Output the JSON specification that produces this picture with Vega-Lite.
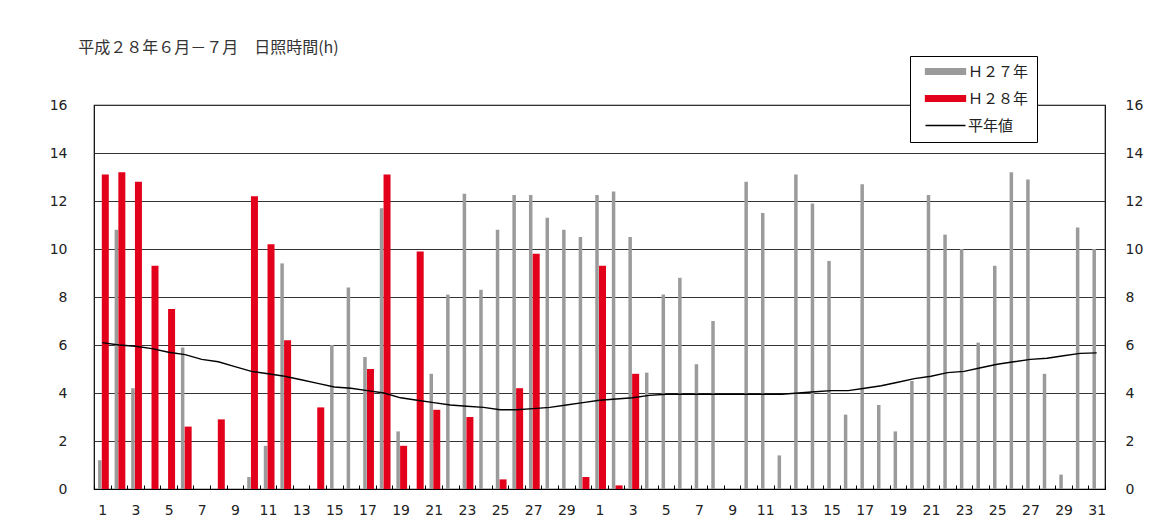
{
  "$schema": "https://vega.github.io/schema/vega-lite/v6.json",
  "width": 1011,
  "height": 384,
  "autosize": {"type": "none"},
  "padding": {"left": 94, "top": 105, "right": 52, "bottom": 41},
  "background": "#ffffff",
  "title": {
    "text": "平成２８年６月－７月　日照時間(h)",
    "anchor": "start",
    "dx": 29,
    "offset": 0,
    "fontSize": 16,
    "fontWeight": "normal",
    "font": "Noto Sans CJK JP",
    "color": "#333333"
  },
  "config": {
    "view": {"stroke": "#000000", "strokeWidth": 1.2},
    "axis": {"labelFont": "DejaVu Sans", "labelFontSize": 14, "labelColor": "#222222", "title": null}
  },
  "data": {
    "values": [
      {"d": 1, "month": 6, "day": 1, "H27": 1.2, "H28": 13.1, "avg": 6.1},
      {"d": 2, "month": 6, "day": 2, "H27": 10.8, "H28": 13.2, "avg": 6.0},
      {"d": 3, "month": 6, "day": 3, "H27": 4.2, "H28": 12.8, "avg": 5.95},
      {"d": 4, "month": 6, "day": 4, "H27": 0, "H28": 9.3, "avg": 5.85},
      {"d": 5, "month": 6, "day": 5, "H27": 0, "H28": 7.5, "avg": 5.7},
      {"d": 6, "month": 6, "day": 6, "H27": 5.9, "H28": 2.6, "avg": 5.6},
      {"d": 7, "month": 6, "day": 7, "H27": 0, "H28": 0, "avg": 5.4},
      {"d": 8, "month": 6, "day": 8, "H27": 0, "H28": 2.9, "avg": 5.3},
      {"d": 9, "month": 6, "day": 9, "H27": 0, "H28": 0, "avg": 5.1},
      {"d": 10, "month": 6, "day": 10, "H27": 0.5, "H28": 12.2, "avg": 4.9},
      {"d": 11, "month": 6, "day": 11, "H27": 1.8, "H28": 10.2, "avg": 4.8},
      {"d": 12, "month": 6, "day": 12, "H27": 9.4, "H28": 6.2, "avg": 4.7},
      {"d": 13, "month": 6, "day": 13, "H27": 0, "H28": 0, "avg": 4.55},
      {"d": 14, "month": 6, "day": 14, "H27": 0, "H28": 3.4, "avg": 4.4},
      {"d": 15, "month": 6, "day": 15, "H27": 6.0, "H28": 0, "avg": 4.25},
      {"d": 16, "month": 6, "day": 16, "H27": 8.4, "H28": 0, "avg": 4.2},
      {"d": 17, "month": 6, "day": 17, "H27": 5.5, "H28": 5.0, "avg": 4.1},
      {"d": 18, "month": 6, "day": 18, "H27": 11.7, "H28": 13.1, "avg": 4.0},
      {"d": 19, "month": 6, "day": 19, "H27": 2.4, "H28": 1.8, "avg": 3.8},
      {"d": 20, "month": 6, "day": 20, "H27": 0, "H28": 9.9, "avg": 3.7},
      {"d": 21, "month": 6, "day": 21, "H27": 4.8, "H28": 3.3, "avg": 3.6},
      {"d": 22, "month": 6, "day": 22, "H27": 8.1, "H28": 0, "avg": 3.5},
      {"d": 23, "month": 6, "day": 23, "H27": 12.3, "H28": 3.0, "avg": 3.45},
      {"d": 24, "month": 6, "day": 24, "H27": 8.3, "H28": 0, "avg": 3.4},
      {"d": 25, "month": 6, "day": 25, "H27": 10.8, "H28": 0.4, "avg": 3.3},
      {"d": 26, "month": 6, "day": 26, "H27": 12.25, "H28": 4.2, "avg": 3.3},
      {"d": 27, "month": 6, "day": 27, "H27": 12.25, "H28": 9.8, "avg": 3.35},
      {"d": 28, "month": 6, "day": 28, "H27": 11.3, "H28": 0, "avg": 3.4},
      {"d": 29, "month": 6, "day": 29, "H27": 10.8, "H28": 0, "avg": 3.5},
      {"d": 30, "month": 6, "day": 30, "H27": 10.5, "H28": 0.5, "avg": 3.6},
      {"d": 31, "month": 7, "day": 1, "H27": 12.25, "H28": 9.3, "avg": 3.7},
      {"d": 32, "month": 7, "day": 2, "H27": 12.4, "H28": 0.15, "avg": 3.75},
      {"d": 33, "month": 7, "day": 3, "H27": 10.5, "H28": 4.8, "avg": 3.8},
      {"d": 34, "month": 7, "day": 4, "H27": 4.85, "H28": null, "avg": 3.9},
      {"d": 35, "month": 7, "day": 5, "H27": 8.1, "H28": null, "avg": 3.95},
      {"d": 36, "month": 7, "day": 6, "H27": 8.8, "H28": null, "avg": 3.95},
      {"d": 37, "month": 7, "day": 7, "H27": 5.2, "H28": null, "avg": 3.95},
      {"d": 38, "month": 7, "day": 8, "H27": 7.0, "H28": null, "avg": 3.95},
      {"d": 39, "month": 7, "day": 9, "H27": 0, "H28": null, "avg": 3.95},
      {"d": 40, "month": 7, "day": 10, "H27": 12.8, "H28": null, "avg": 3.95},
      {"d": 41, "month": 7, "day": 11, "H27": 11.5, "H28": null, "avg": 3.95},
      {"d": 42, "month": 7, "day": 12, "H27": 1.4, "H28": null, "avg": 3.95},
      {"d": 43, "month": 7, "day": 13, "H27": 13.1, "H28": null, "avg": 4.0},
      {"d": 44, "month": 7, "day": 14, "H27": 11.9, "H28": null, "avg": 4.05},
      {"d": 45, "month": 7, "day": 15, "H27": 9.5, "H28": null, "avg": 4.1},
      {"d": 46, "month": 7, "day": 16, "H27": 3.1, "H28": null, "avg": 4.1},
      {"d": 47, "month": 7, "day": 17, "H27": 12.7, "H28": null, "avg": 4.2},
      {"d": 48, "month": 7, "day": 18, "H27": 3.5, "H28": null, "avg": 4.3},
      {"d": 49, "month": 7, "day": 19, "H27": 2.4, "H28": null, "avg": 4.45},
      {"d": 50, "month": 7, "day": 20, "H27": 4.5, "H28": null, "avg": 4.6},
      {"d": 51, "month": 7, "day": 21, "H27": 12.25, "H28": null, "avg": 4.7},
      {"d": 52, "month": 7, "day": 22, "H27": 10.6, "H28": null, "avg": 4.85},
      {"d": 53, "month": 7, "day": 23, "H27": 10.0, "H28": null, "avg": 4.9},
      {"d": 54, "month": 7, "day": 24, "H27": 6.1, "H28": null, "avg": 5.05},
      {"d": 55, "month": 7, "day": 25, "H27": 9.3, "H28": null, "avg": 5.2},
      {"d": 56, "month": 7, "day": 26, "H27": 13.2, "H28": null, "avg": 5.3},
      {"d": 57, "month": 7, "day": 27, "H27": 12.9, "H28": null, "avg": 5.4},
      {"d": 58, "month": 7, "day": 28, "H27": 4.8, "H28": null, "avg": 5.45},
      {"d": 59, "month": 7, "day": 29, "H27": 0.6, "H28": null, "avg": 5.55},
      {"d": 60, "month": 7, "day": 30, "H27": 10.9, "H28": null, "avg": 5.65},
      {"d": 61, "month": 7, "day": 31, "H27": 10.0, "H28": null, "avg": 5.67}
    ]
  },
  "encoding": {
    "x": {
      "field": "d",
      "type": "ordinal",
      "scale": {"paddingInner": 0, "paddingOuter": 0},
      "axis": {
        "labelAngle": 0,
        "labelExpr": "datum.value <= 30 ? (datum.value % 2 == 1 ? '' + datum.value : '') : ((datum.value - 30) % 2 == 1 ? '' + (datum.value - 30) : '')",
        "tickBand": "extent",
        "tickSize": -4,
        "tickColor": "#000000",
        "domainColor": "#000000",
        "labelPadding": 18,
        "grid": false
      }
    }
  },
  "layer": [
    {
      "mark": {"type": "bar", "width": 3.5, "xOffset": -2.5},
      "encoding": {
        "y": {
          "field": "H27",
          "type": "quantitative",
          "scale": {"domain": [0, 16], "nice": false},
          "axis": {"orient": "left", "values": [0, 2, 4, 6, 8, 10, 12, 14, 16], "ticks": false, "domain": false, "grid": true, "gridColor": "#333333", "gridWidth": 1, "gridOpacity": 1, "labelPadding": 27}
        },
        "color": {
          "datum": "Ｈ２７年",
          "scale": {"domain": ["Ｈ２７年", "Ｈ２８年", "平年値"], "range": ["#9b9b9b", "#e2001a", "#000000"]},
          "legend": {
            "title": null,
            "orient": "none",
            "legendX": 816,
            "legendY": -49,
            "strokeColor": "#000000",
            "fillColor": "#ffffff",
            "padding": 8,
            "labelFont": "Noto Sans CJK JP",
            "labelFontSize": 15,
            "labelColor": "#222222",
            "symbolSize": 100,
            "symbolOffset": 20,
            "labelOffset": 15,
            "rowPadding": 11,
            "encode": {
              "symbols": {
                "update": {
                  "shape": [{"test": "datum.value === '平年値'", "value": "M-4,0H4"}, {"value": "M-4,-0.55H4V0.55H-4Z"}],
                  "size": {"value": 100},
                  "fill": [{"test": "datum.value === '平年値'", "value": "transparent"}, {"test": "datum.value === 'Ｈ２７年'", "value": "#9b9b9b"}, {"value": "#e2001a"}],
                  "stroke": [{"test": "datum.value === '平年値'", "value": "#000000"}, {"value": "transparent"}],
                  "strokeWidth": {"value": 1.3},
                  "opacity": {"value": 1}
                }
              }
            }
          }
        }
      }
    },
    {
      "mark": {"type": "bar", "width": 7, "xOffset": 3},
      "encoding": {
        "y": {"field": "H28", "type": "quantitative", "axis": null},
        "color": {"datum": "Ｈ２８年"}
      }
    },
    {
      "mark": {"type": "line", "strokeWidth": 1.4},
      "encoding": {
        "y": {
          "field": "avg",
          "type": "quantitative",
          "axis": {"orient": "right", "values": [0, 2, 4, 6, 8, 10, 12, 14, 16], "ticks": false, "domain": false, "grid": false, "labelPadding": 20, "labelAlign": "left"}
        },
        "color": {"datum": "平年値"}
      }
    }
  ],
  "resolve": {"axis": {"y": "independent"}}
}
